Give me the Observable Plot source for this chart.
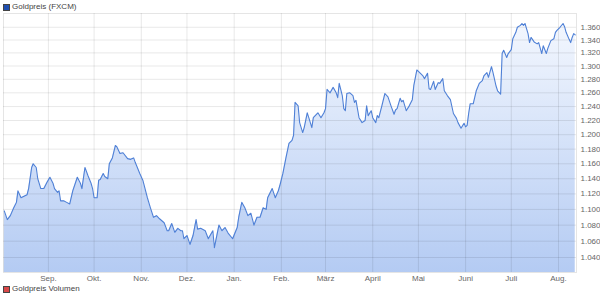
<!DOCTYPE html>
<html>
<head>
<meta charset="utf-8">
<script src="https://cdn.jsdelivr.net/npm/d3@7"></script>
<script src="https://cdn.jsdelivr.net/npm/@observablehq/plot@0.6"></script>
<style>
  html, body { margin: 0; padding: 0; background: #fff; width: 600px; height: 295px; overflow: hidden; }
  body { font-family: "Liberation Sans", Arial, sans-serif; }
  .legend { height: 12px; position: relative; font-size: 8px; color: #444; line-height: 12px; }
  .legend .sw { position: absolute; left: 3px; top: 4px; width: 5px; height: 5px; border: 1px solid #444; }
  .legend .lbl { position: absolute; left: 12px; top: 1px; white-space: nowrap; }
  #chart svg { display: block; }
</style>
</head>
<body>
<div class="legend"><span class="sw" style="background:#1f4fb0"></span><span class="lbl">Goldpreis (FXCM)</span></div>
<div id="chart"></div>
<div class="legend"><span class="sw" style="background:#d94848;top:2px"></span><span class="lbl" style="top:-1px">Goldpreis Volumen</span></div>
<script>
const dates = [
"2015-08-03","2015-08-05","2015-08-07","2015-08-09","2015-08-11","2015-08-12","2015-08-14","2015-08-16","2015-08-18","2015-08-19",
"2015-08-21","2015-08-22","2015-08-24","2015-08-25","2015-08-27","2015-08-29","2015-08-31","2015-09-02","2015-09-04","2015-09-05",
"2015-09-07","2015-09-08","2015-09-09","2015-09-11","2015-09-13","2015-09-15","2015-09-17","2015-09-20","2015-09-22","2015-09-23",
"2015-09-25","2015-09-27","2015-09-29","2015-09-30","2015-10-01","2015-10-03","2015-10-04","2015-10-05","2015-10-07","2015-10-08",
"2015-10-10","2015-10-11","2015-10-13","2015-10-15","2015-10-16","2015-10-18","2015-10-20","2015-10-23","2015-10-25","2015-10-27",
"2015-10-28","2015-10-31","2015-11-02","2015-11-05","2015-11-07","2015-11-09","2015-11-11","2015-11-13","2015-11-16","2015-11-18",
"2015-11-19","2015-11-21","2015-11-23","2015-11-25","2015-11-27","2015-11-28","2015-11-29","2015-12-01","2015-12-03","2015-12-05",
"2015-12-07","2015-12-08","2015-12-10","2015-12-13","2015-12-15","2015-12-18","2015-12-19","2015-12-22","2015-12-24","2015-12-26",
"2015-12-28","2015-12-31","2016-01-03","2016-01-04","2016-01-06","2016-01-08","2016-01-10","2016-01-12","2016-01-14","2016-01-16",
"2016-01-18","2016-01-20","2016-01-22","2016-01-23","2016-01-26","2016-01-28","2016-01-30","2016-01-31","2016-02-02","2016-02-04",
"2016-02-06","2016-02-08","2016-02-09","2016-02-10","2016-02-12","2016-02-13","2016-02-15","2016-02-16","2016-02-18","2016-02-19",
"2016-02-21","2016-02-22","2016-02-25","2016-02-27","2016-02-29","2016-03-01","2016-03-02","2016-03-04","2016-03-06","2016-03-08",
"2016-03-09","2016-03-10","2016-03-12","2016-03-13","2016-03-14","2016-03-15","2016-03-17","2016-03-19","2016-03-20","2016-03-21",
"2016-03-23","2016-03-25","2016-03-27","2016-03-28","2016-03-29","2016-03-31","2016-04-01","2016-04-03","2016-04-04","2016-04-05",
"2016-04-07","2016-04-09","2016-04-11","2016-04-13","2016-04-15","2016-04-16","2016-04-17","2016-04-19","2016-04-20","2016-04-21",
"2016-04-23","2016-04-25","2016-04-27","2016-04-28","2016-04-30","2016-05-01","2016-05-04","2016-05-05","2016-05-07","2016-05-08",
"2016-05-09","2016-05-11","2016-05-12","2016-05-14","2016-05-15","2016-05-17","2016-05-18","2016-05-20","2016-05-22","2016-05-24",
"2016-05-26","2016-05-27","2016-05-29","2016-05-31","2016-06-01","2016-06-02","2016-06-03","2016-06-04","2016-06-06","2016-06-08",
"2016-06-10","2016-06-12","2016-06-13","2016-06-15","2016-06-16","2016-06-18","2016-06-19","2016-06-21","2016-06-22","2016-06-24",
"2016-06-25","2016-06-26","2016-06-28","2016-06-29","2016-07-01","2016-07-02","2016-07-04","2016-07-05","2016-07-07","2016-07-08",
"2016-07-09","2016-07-10","2016-07-12","2016-07-13","2016-07-14","2016-07-16","2016-07-18","2016-07-19","2016-07-21","2016-07-22",
"2016-07-24","2016-07-25","2016-07-27","2016-07-29","2016-07-30","2016-07-31","2016-08-02","2016-08-04","2016-08-05","2016-08-06",
"2016-08-08","2016-08-09","2016-08-10","2016-08-11","2016-08-12"
];
const prices = [
1098,1087,1092,1101,1109,1124,1115,1117,1119,1127,
1155,1160,1155,1140,1127,1127,1135,1142,1134,1127,
1122,1124,1111,1111,1109,1107,1124,1142,1134,1127,
1155,1144,1134,1127,1115,1115,1138,1139,1147,1143,
1140,1160,1168,1185,1183,1174,1175,1167,1166,1168,
1162,1147,1138,1115,1102,1090,1092,1088,1083,1073,
1073,1082,1071,1076,1073,1073,1063,1067,1056,1067,
1087,1075,1076,1073,1063,1073,1052,1080,1073,1077,
1070,1063,1077,1090,1109,1102,1092,1095,1080,1090,
1090,1102,1100,1115,1127,1115,1124,1131,1147,1168,
1188,1192,1199,1246,1241,1217,1203,1210,1231,1224,
1210,1224,1231,1224,1231,1237,1265,1260,1268,1260,
1253,1274,1256,1237,1234,1259,1260,1256,1246,1249,
1224,1217,1220,1241,1227,1234,1224,1217,1227,1224,
1241,1259,1254,1241,1229,1235,1237,1252,1247,1249,
1234,1241,1250,1271,1294,1292,1285,1281,1289,1266,
1265,1277,1265,1275,1274,1281,1263,1256,1250,1230,
1223,1217,1209,1216,1211,1213,1230,1244,1244,1263,
1274,1278,1285,1290,1283,1299,1290,1270,1263,1258,
1319,1324,1313,1319,1325,1342,1352,1360,1363,1366,
1363,1366,1350,1336,1344,1337,1334,1336,1319,1331,
1319,1327,1339,1342,1352,1355,1360,1366,1361,1352,
1341,1336,1344,1350,1348
];
const monthStarts = ["2015-09-01","2015-10-01","2015-11-01","2015-12-01","2016-01-01","2016-02-01","2016-03-01","2016-04-01","2016-05-01","2016-06-01","2016-07-01","2016-08-01"];
const monthLabels = ["Sep.","Okt.","Nov.","Dez.","Jan.","Feb.","März","April","Mai","Juni","Juli","Aug."];
const priceTicks = [1040,1060,1080,1100,1120,1140,1160,1180,1200,1220,1240,1260,1280,1300,1320,1340,1360];
const yDomain = [1022, 1382];
const xDomain = ["2015-08-02T12:00Z", "2016-08-12T20:00Z"];

const data = dates.map((d, i) => ({date: new Date(d), price: prices[i]}));
const tickDates = monthStarts.map(d => new Date(d));
const labelByTime = new Map(tickDates.map((d, i) => [d.getTime(), monthLabels[i]]));
const de = d3.formatLocale({decimal: ",", thousands: ".", grouping: [3], currency: ["", " €"]});
const fmtPrice = de.format(",.0f");

const svg = Plot.plot({
  width: 600,
  height: 272,
  marginTop: 1,
  marginBottom: 12,
  marginLeft: 3,
  marginRight: 24,
  style: {fontFamily: "'Liberation Sans', Arial, sans-serif", fontSize: "8px", color: "#555", background: "#fff"},
  x: {type: "utc", domain: xDomain.map(d => new Date(d))},
  y: {type: "log", domain: yDomain},
  marks: [
    Plot.areaY(data, {x: "date", y1: () => yDomain[0], y2: "price", fill: "url(#goldGrad)", curve: "linear"}),
    Plot.gridX(tickDates, {stroke: "#000", strokeOpacity: 0.09}),
    Plot.gridY(priceTicks, {stroke: "#000", strokeOpacity: 0.09}),
    Plot.frame({stroke: "#000", strokeOpacity: 0.1}),
    Plot.lineY(data, {x: "date", y: "price", stroke: "#4f80d6", strokeWidth: 1.1}),
    Plot.axisX(tickDates, {tickSize: 0, tickPadding: 3, tickFormat: d => labelByTime.get(d.getTime()), fill: "#666", label: null}),
    Plot.axisY(priceTicks, {anchor: "right", tickSize: 0, tickPadding: 4, tickFormat: fmtPrice, fill: "#666", label: null})
  ]
});

const defs = d3.select(svg).insert("defs", ":first-child");
const grad = defs.append("linearGradient").attr("id", "goldGrad").attr("x1", 0).attr("y1", 0).attr("x2", 0).attr("y2", 1);
grad.append("stop").attr("offset", "0%").attr("stop-color", "#f3f7fe");
grad.append("stop").attr("offset", "100%").attr("stop-color", "#b4cbf3");

document.getElementById("chart").appendChild(svg);
</script>
</body>
</html>
